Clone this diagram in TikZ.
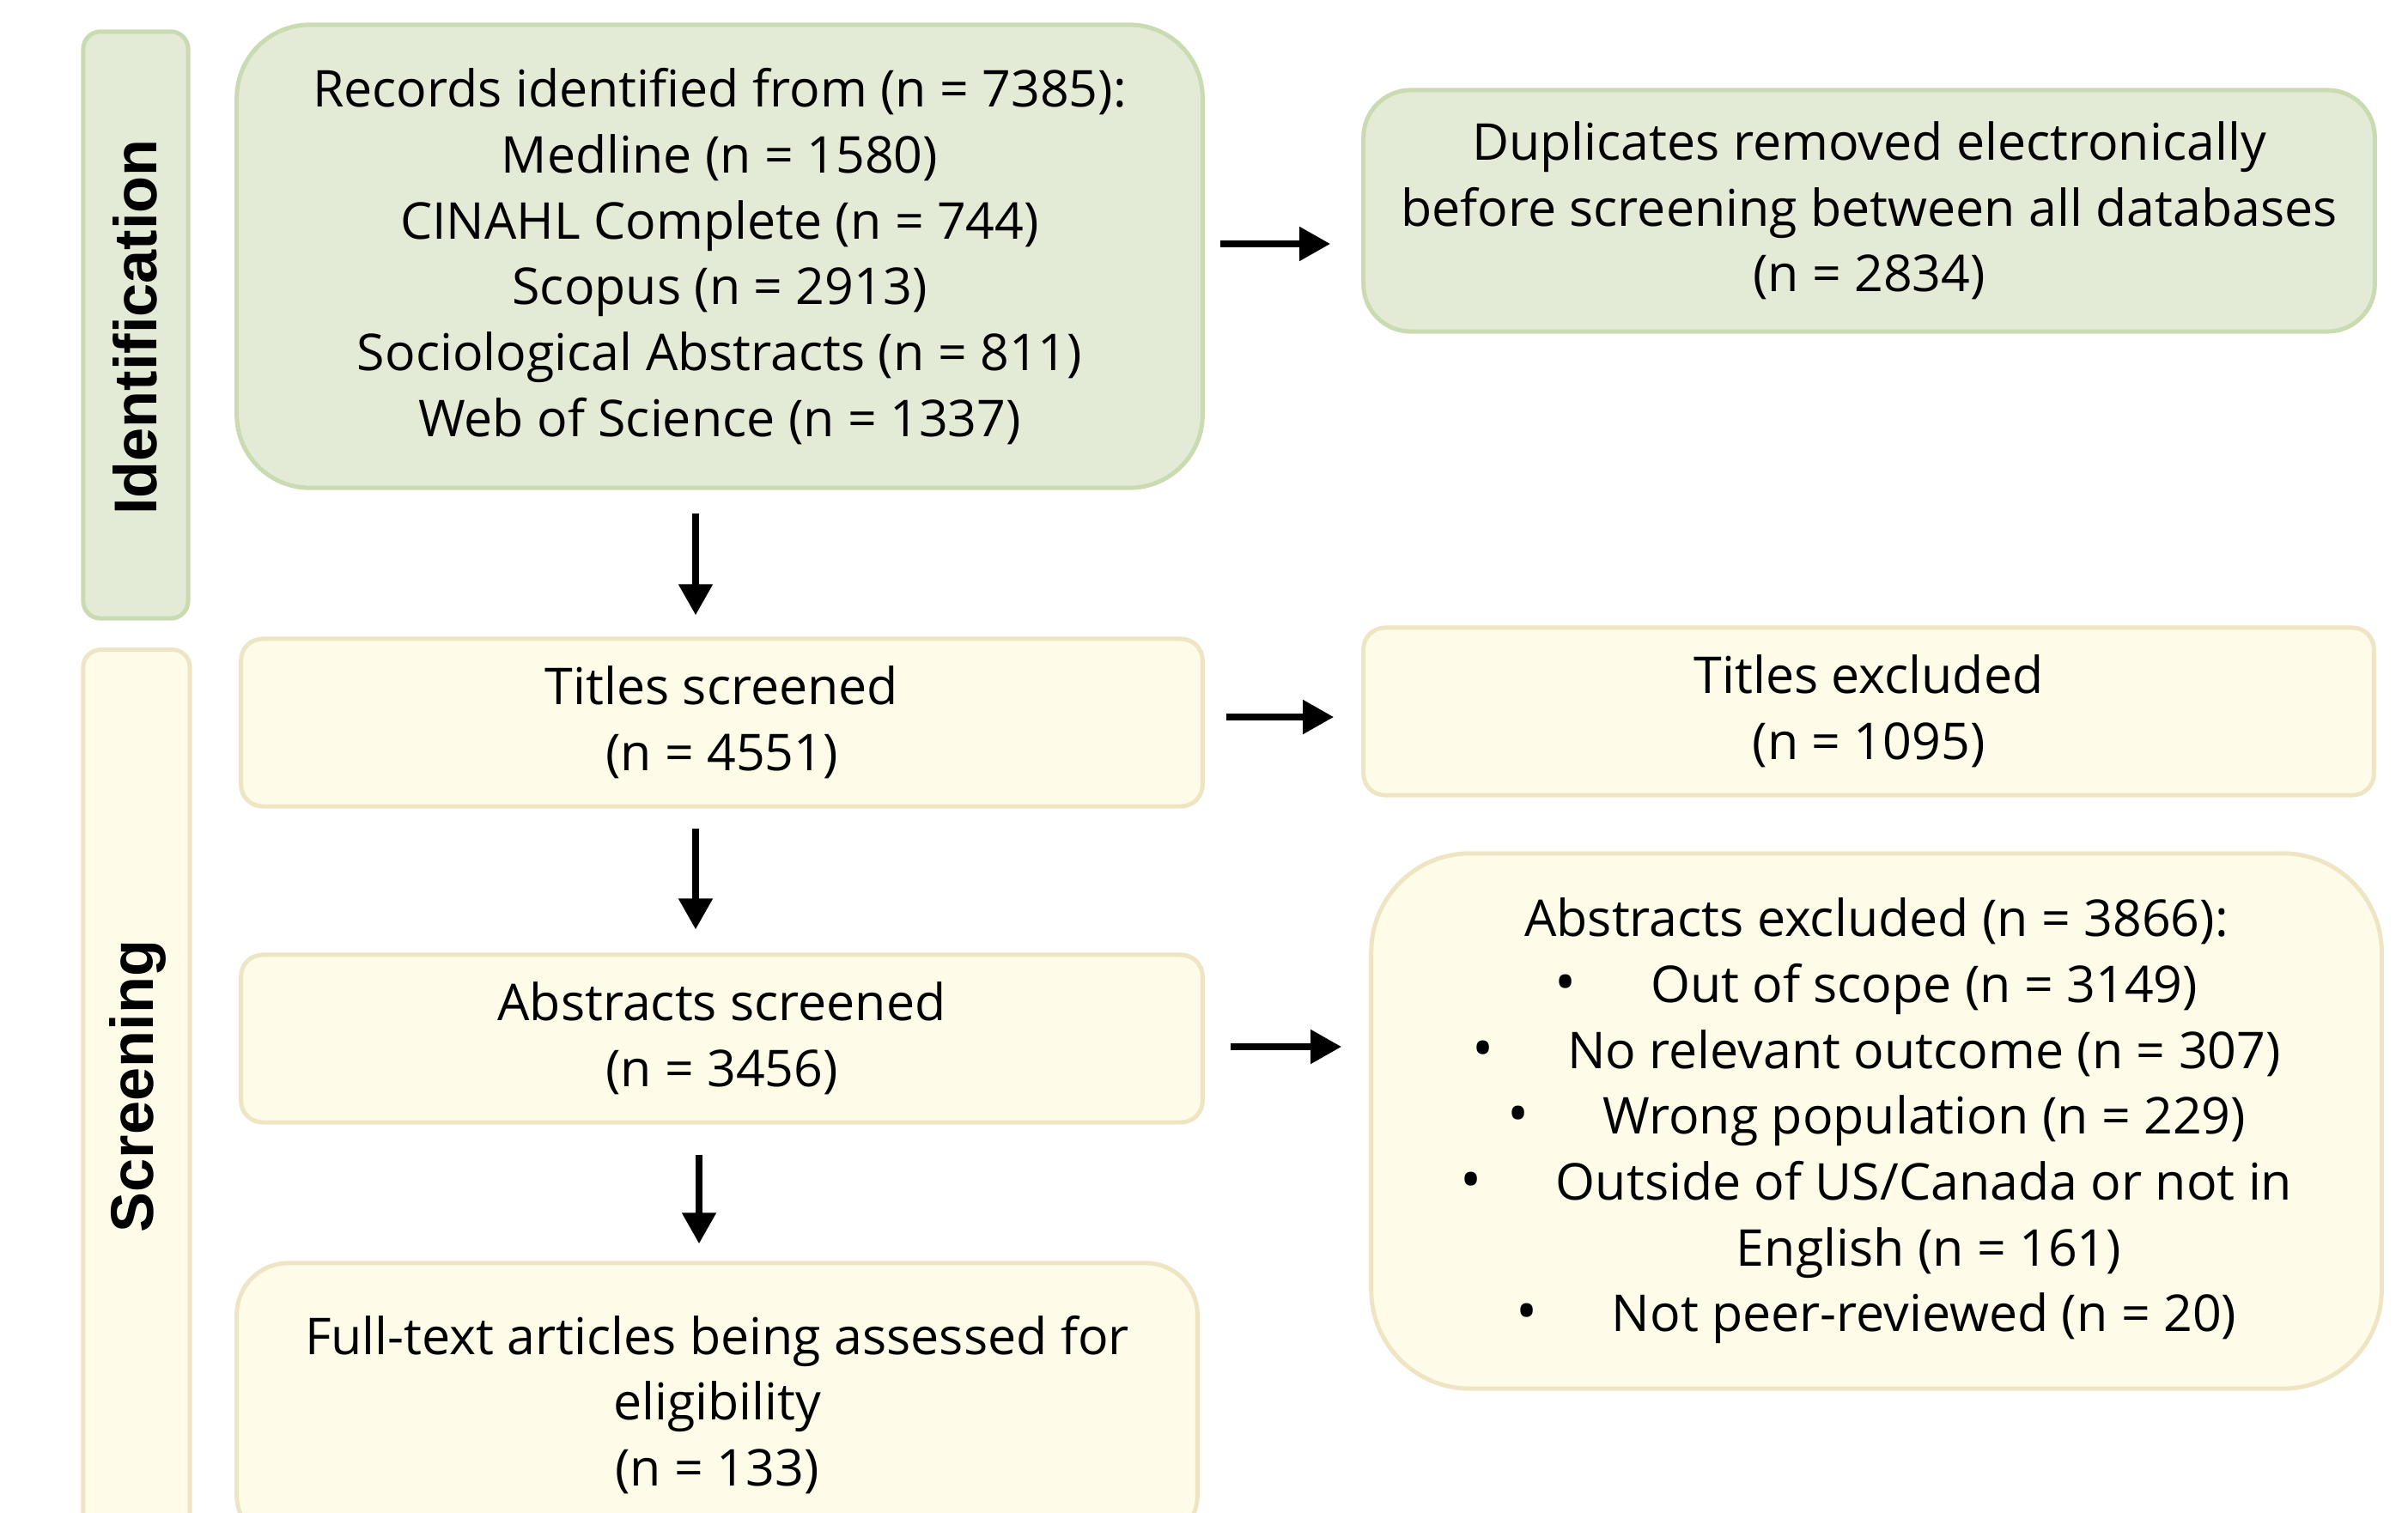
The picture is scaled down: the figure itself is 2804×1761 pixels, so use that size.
\documentclass[tikz,border=0pt]{standalone}
\usepackage{fontspec}
\setmainfont{Open Sans}
\newfontfamily\labfont{Liberation Sans}
\usetikzlibrary{arrows.meta}
\definecolor{gfill}{HTML}{E3EAD6}
\definecolor{gline}{HTML}{CADBB2}
\definecolor{yfill}{HTML}{FEFBE8}
\definecolor{yline}{HTML}{EEE5C5}
\newcommand{\bul}{\makebox[1.11cm][l]{\fontsize{19}{19}\selectfont\textbullet}}
\begin{document}
\begin{tikzpicture}[x=0.01cm,y=-0.01cm,
  box/.style={draw, line width=0.05cm, align=center, inner sep=0pt, text=black,
    font=\fontsize{16.8}{21.8}\selectfont},
  gbox/.style={box, draw=gline, fill=gfill},
  ybox/.style={box, draw=yline, fill=yfill},
  lab/.style={rotate=90, inner sep=0pt, font=\labfont\bfseries\fontsize{20}{24}\selectfont},
  arr/.style={line width=0.08cm, -{Triangle[length=0.36cm,width=0.38cm]}}]
\useasboundingbox (0,0) rectangle (2804,1761);
\clip (0,0) rectangle (2804,1761);
% phase bars
\node[gbox, rounded corners=0.2cm, minimum width=1.22cm, minimum height=6.83cm] (idbar) at (158,378.5) {};
\node[ybox, rounded corners=0.2cm, minimum width=1.24cm, minimum height=11.43cm] (scbar) at (159,1328.5) {};
\node[lab] (idlab) at (157,381) {Identification};
\node[lab] (sclab) at (160,1265) {Screening};
% boxes
\node[gbox, rounded corners=0.85cm, minimum width=11.24cm, minimum height=5.39cm] (rec) at (838,298.5)
  {Records identified from (n = 7385):\\Medline (n = 1580)\\CINAHL Complete (n = 744)\\Scopus (n = 2913)\\Sociological Abstracts (n = 811)\\Web of Science (n = 1337)};
\node[gbox, rounded corners=0.55cm, minimum width=11.77cm, minimum height=2.81cm] (dup) at (2176.5,245.5)
  {Duplicates removed electronically\\before screening between all databases\\(n = 2834)};
\node[ybox, rounded corners=0.25cm, minimum width=11.19cm, minimum height=1.95cm] (ts) at (840.5,841.5)
  {Titles screened\\(n = 4551)};
\node[ybox, rounded corners=0.25cm, minimum width=11.76cm, minimum height=1.95cm] (te) at (2176,828.5)
  {Titles excluded\\(n = 1095)};
\node[ybox, rounded corners=0.25cm, minimum width=11.19cm, minimum height=1.95cm] (as) at (840.5,1209.5)
  {Abstracts screened\\(n = 3456)};
\node[ybox, rounded corners=1.15cm, minimum width=11.76cm, minimum height=6.23cm] (ae) at (2185,1305.5)
  {Abstracts excluded (n = 3866):\\
   \bul Out of scope (n = 3149)\\
   \bul No relevant outcome (n = 307)\\
   \bul Wrong population (n = 229)\\
   \bul Outside of US/Canada or not in\\
   \hspace*{1.22cm}English (n = 161)\\
   \bul Not peer-reviewed (n = 20)};
\node[ybox, rounded corners=0.6cm, minimum width=11.18cm, minimum height=3.3cm] (ft) at (835,1636)
  {Full-text articles being assessed for\\eligibility\\(n = 133)};
% connectors
\coordinate (h1) at (0,284);
\coordinate (h2) at (0,835);
\coordinate (h3) at (0,1219);
\coordinate (v1) at (810,0);
\coordinate (v3) at (814,0);
\draw[arr, shorten <=0.18cm, shorten >=0.36cm] (rec.east |- h1) -- (dup.west |- h1);
\draw[arr, shorten <=0.25cm, shorten >=0.32cm] (ts.east |- h2) -- (te.west |- h2);
\draw[arr, shorten <=0.30cm, shorten >=0.32cm] (as.east |- h3) -- (ae.west |- h3);
\draw[arr, shorten <=0.27cm, shorten >=0.25cm] (rec.south -| v1) -- (ts.north -| v1);
\draw[arr, shorten <=0.23cm, shorten >=0.27cm] (ts.south -| v1) -- (as.north -| v1);
\draw[arr, shorten <=0.35cm, shorten >=0.20cm] (as.south -| v3) -- (ft.north -| v3);
\end{tikzpicture}
\end{document}
